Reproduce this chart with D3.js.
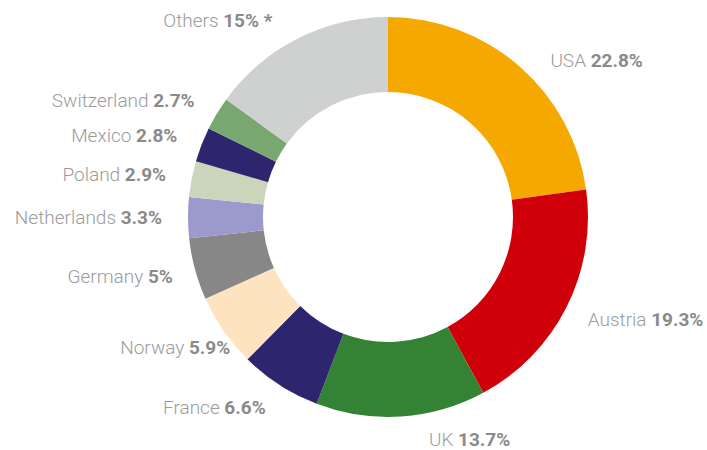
<!DOCTYPE html>
<html lang="en">
<head>
    <meta charset="UTF-8">
    <title>Donut chart</title>
    <script src="https://d3js.org/d3.v7.min.js"></script>
    <style>
        body { margin: 0; background: #fff; }
        text { font-family: Roboto, "Liberation Sans", Arial, sans-serif; font-size: 19px; }
    </style>
</head>
<body>
    <div id="chart"></div>

    <script>
        // Data, clockwise from 12 o'clock
        const countries = ["USA", "Austria", "UK", "France", "Norway", "Germany",
                           "Netherlands", "Poland", "Mexico", "Switzerland", "Others"];
        const shares = [22.8, 19.3, 13.7, 6.6, 5.9, 5, 3.3, 2.9, 2.8, 2.7, 15];
        const valueLabels = ["22.8%", "19.3%", "13.7%", "6.6%", "5.9%", "5%",
                             "3.3%", "2.9%", "2.8%", "2.7%", "15% *"];
        const colors = ["#f5a800", "#d0000b", "#348234", "#2d266e", "#fde3bf", "#878787",
                        "#9c9acc", "#cbd5bc", "#2d266e", "#78a76f", "#cfd0d0"];

        const width = 707;
        const height = 450;
        const cx = 388, cy = 217;
        const outerR = 200, innerR = 125, labelR = 226;

        // small hand nudges so labels sit like the original
        const nudge = { USA: [14, 14], UK: [26, -3], Norway: [28, 2], Others: [-13, 5], Austria: [-2, 0], Germany: [3, 0] };

        const svg = d3.select("#chart")
            .append("svg")
            .attr("width", width)
            .attr("height", height);

        const data = countries.map((c, i) => ({ name: c, value: shares[i], label: valueLabels[i], color: colors[i] }));

        const pie = d3.pie().value(d => d.value).sort(null);
        const arcs = pie(data);

        const arc = d3.arc().innerRadius(innerR).outerRadius(outerR);

        const g = svg.append("g").attr("transform", `translate(${cx},${cy})`);

        g.selectAll("path")
            .data(arcs)
            .join("path")
            .attr("d", arc)
            .attr("fill", d => d.data.color);

        // labels
        g.selectAll("text")
            .data(arcs)
            .join("text")
            .each(function(d) {
                const mid = (d.startAngle + d.endAngle) / 2;
                const n = nudge[d.data.name] || [0, 0];
                const x = labelR * Math.sin(mid) + n[0];
                const y = -labelR * Math.cos(mid) + n[1];
                const left = mid > Math.PI;
                const t = d3.select(this)
                    .attr("x", x)
                    .attr("y", y)
                    .attr("dy", "0.35em")
                    .attr("text-anchor", left ? "end" : "start");
                t.append("tspan")
                    .attr("fill", "#9b9b9b")
                    .attr("font-weight", 300)
                    .text(d.data.name + " ");
                t.append("tspan")
                    .attr("fill", "#8a8a8a")
                    .attr("font-weight", 700)
                    .text(d.data.label);
            });
    </script>
</body>
</html>
